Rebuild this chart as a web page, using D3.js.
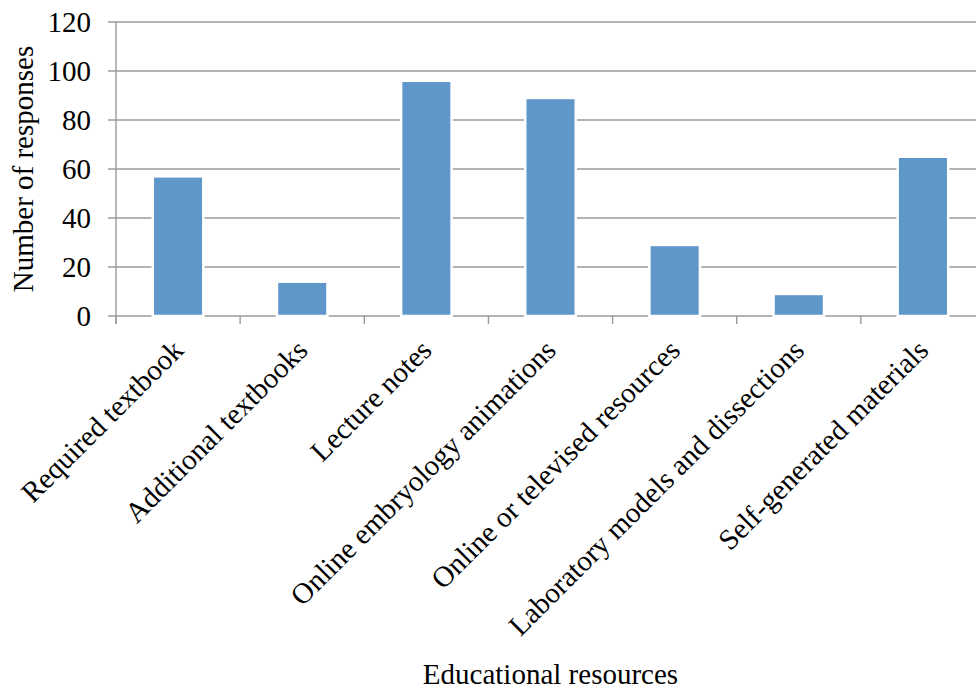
<!DOCTYPE html>
<html><head><meta charset="utf-8">
<script src="https://cdn.jsdelivr.net/npm/d3@7"></script>
<style>
html,body{margin:0;padding:0;background:#fff;}
svg{display:block;}
text{font-family:"Liberation Serif","Times New Roman",serif;fill:#000;}
</style></head>
<body>
<script>
const categories = ["Required textbook","Additional textbooks","Lecture notes","Online embryology animations","Online or televised resources","Laboratory models and dissections","Self-generated materials"];
const responses = [57, 14, 96, 89, 29, 9, 65];
const yTicks = [0, 20, 40, 60, 80, 100, 120];
const yTitle = "Number of responses";
const xTitle = "Educational resources";

const W = 976, H = 690;
const mLeft = 116, mRight = 985, mTop = 22, mBottom = 316;
const svg = d3.select("body").append("svg").attr("width", W).attr("height", H);

const x = d3.scaleBand().domain(categories).range([mLeft, mRight]).paddingInner(0.593).paddingOuter(0.2965);
const y = d3.scaleLinear().domain([0, 120]).range([mBottom, mTop]);
const gray = "#9a9a9a";

// gridlines
svg.append("g").selectAll("line").data(yTicks).join("line")
  .attr("x1", mLeft - 8).attr("x2", mRight)
  .attr("y1", d => y(d)).attr("y2", d => y(d))
  .attr("stroke", gray).attr("stroke-width", 1.4);

// y axis line
svg.append("line").attr("x1", mLeft).attr("x2", mLeft).attr("y1", y(120)).attr("y2", mBottom + 8)
  .attr("stroke", gray).attr("stroke-width", 1.4);

// x ticks at band boundaries
const bounds = categories.map((c, i) => mLeft + i * x.step()).concat([mLeft + categories.length * x.step()]);
svg.append("g").selectAll("line").data(bounds).join("line")
  .attr("x1", d => d).attr("x2", d => d).attr("y1", mBottom).attr("y2", mBottom + 8)
  .attr("stroke", gray).attr("stroke-width", 1.4);

// bars
svg.append("g").selectAll("rect").data(categories).join("rect")
  .attr("x", d => x(d)).attr("width", x.bandwidth())
  .attr("y", (d, i) => y(responses[i])).attr("height", (d, i) => mBottom - y(responses[i]))
  .attr("fill", "#6097cb").attr("stroke", "#ffffff").attr("stroke-width", 2.5);

// y tick labels
svg.append("g").selectAll("text").data(yTicks).join("text")
  .attr("x", 91).attr("y", d => y(d) + 10)
  .attr("text-anchor", "end").attr("font-size", 29).text(d => d);

// category labels
svg.append("g").selectAll("text").data(categories).join("text")
  .attr("text-anchor", "end").attr("font-size", 29)
  .attr("transform", d => `translate(${x(d) + x.bandwidth() / 2 + 7},${mBottom + 36}) rotate(-45)`)
  .text(d => d);

// axis titles
svg.append("text").attr("text-anchor", "middle").attr("font-size", 29)
  .attr("transform", `translate(33,${(mTop + mBottom) / 2}) rotate(-90)`).text(yTitle);
svg.append("text").attr("text-anchor", "middle").attr("font-size", 29)
  .attr("x", (mLeft + mRight) / 2).attr("y", 684).text(xTitle);
</script>
</body></html>
